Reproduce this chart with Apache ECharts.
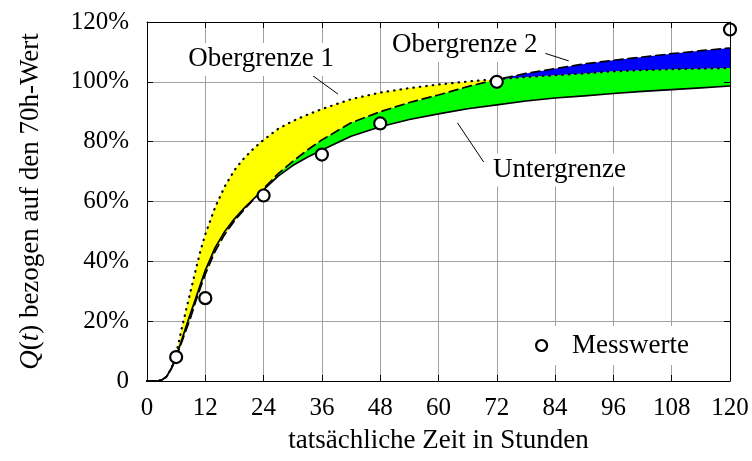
<!DOCTYPE html>
<html>
<head>
<meta charset="utf-8">
<script src="https://cdn.jsdelivr.net/npm/echarts@6/dist/echarts.min.js"></script>
<style>
  html, body { margin: 0; padding: 0; background: #fff; }
  #chart { width: 752px; height: 461px; }
</style>
</head>
<body>
<div id="chart"></div>
<script>
const hours = [0, 2, 3, 4, 5, 6, 7, 8, 9, 10, 11, 12, 14, 16, 18, 20, 22, 24, 27, 30, 33, 36,
  42, 48, 54, 60, 66, 72, 78, 84, 90, 96, 102, 108, 114, 120];

// Untergrenze (durchgezogen), in % des 70h-Werts
const untergrenze = [0, 0, 0.3, 1.4, 4.2, 8.1, 13, 18, 22.8, 27.5, 32.3, 37, 44.5, 50, 54.2, 57.8, 61, 64, 68.5, 72, 74.8, 77.2,
  81.8, 85, 87.4, 89.3, 91, 92.3, 93.6, 94.6, 95.3, 96.1, 96.8, 97.4, 98, 98.6];

// Obergrenze 1 (gepunktet)
const obergrenze1 = [0, 0, 0.3, 1.4, 4.2, 9, 16.5, 23.5, 30.2, 37, 43.5, 49, 58, 65, 70.5, 74.5, 77.8, 80.6, 84.3, 86.9, 89, 90.9,
  94.2, 96.4, 97.9, 99.1, 100.1, 100.9, 101.6, 102.2, 102.8, 103.5, 103.9, 104.2, 104.4, 104.6];

// Obergrenze 2 (gestrichelt)
const obergrenze2 = [0, 0, 0.3, 1.4, 4.0, 7.8, 12.3, 16.8, 21.3, 26.5, 31.2, 35.7, 43.3, 49, 53.5, 57.3, 60.8, 64.3, 69.3, 73.4, 77.2, 80.6,
  86.3, 90, 93.1, 95.6, 98.4, 100.8, 102.8, 104.4, 106, 107.2, 108.3, 109.4, 110.4, 111.3];

// Messwerte
const messStunden = [6, 12, 24, 36, 48, 72, 120];
const messWerte = [8, 27.7, 62, 75.7, 86.1, 100, 117.5];

// Achsenbeschriftungen
const xTickLabels = ['0', '12', '24', '36', '48', '60', '72', '84', '96', '108', '120'];
const yTickLabels = ['0', '20%', '40%', '60%', '80%', '100%', '120%'];

const FONT = 'Liberation Serif';

// Flächen zwischen den Grenzkurven
const tiefereObergrenze = hours.map((_, i) => Math.min(obergrenze1[i], obergrenze2[i]));
const baender = [
  { farbe: '#00ff00', oben: tiefereObergrenze, unten: untergrenze },
  { farbe: '#ffff00', oben: obergrenze1, unten: tiefereObergrenze },
  { farbe: '#0000ff', oben: obergrenze2, unten: tiefereObergrenze }
];

function renderBand(params, api) {
  const b = baender[params.dataIndex];
  const pts = [];
  for (let i = 0; i < hours.length; i++) pts.push(api.coord([hours[i], b.oben[i]]));
  for (let i = hours.length - 1; i >= 0; i--) pts.push(api.coord([hours[i], b.unten[i]]));
  return {
    type: 'polygon',
    shape: { points: pts },
    style: { fill: b.farbe, stroke: null, lineWidth: 0 }
  };
}

const pairs = ys => hours.map((h, i) => [h, ys[i]]);

function curve(name, values, type, width) {
  return {
    name, type: 'line', data: pairs(values), smooth: false,
    showSymbol: false, symbol: 'none', silent: true, z: 3,
    lineStyle: { color: '#000', width, type, cap: type === 'solid' ? 'butt' : 'round', join: 'round' }
  };
}

const chart = echarts.init(document.getElementById('chart'), null, { renderer: 'canvas' });

const textBase = { fontFamily: FONT, color: '#000' };

chart.setOption({
  animation: false,
  backgroundColor: '#fff',
  grid: { left: 147, top: 22, width: 583, height: 359, containLabel: false, outerBoundsMode: 'none' },
  legend: {
    data: [{ name: 'Messwerte', icon: 'circle' }],
    left: 526, top: 326,
    orient: 'horizontal',
    backgroundColor: '#fff',
    padding: [6, 12, 6, 9],
    itemWidth: 11, itemHeight: 11,
    itemStyle: { color: '#fff', borderColor: '#000', borderWidth: 2.2, opacity: 1 },
    textStyle: Object.assign({ fontSize: 27, padding: [0, 0, 0, 20] }, textBase),
    selectedMode: false
  },
  xAxis: [{
    type: 'value', min: 0, max: 120, interval: 12, position: 'bottom',
    axisLine: { show: true, onZero: false, lineStyle: { color: '#000', width: 1 } },
    axisTick: { show: true, inside: true, length: 6, lineStyle: { color: '#000', width: 1 } },
    axisLabel: Object.assign({ fontSize: 25, margin: 15, formatter: v => xTickLabels[Math.round(v / 12)] }, textBase),
    splitLine: { show: true, lineStyle: { color: '#a0a0a0', width: 1 } },
    name: 'tatsächliche Zeit in Stunden', nameLocation: 'middle', nameGap: 46,
    nameTextStyle: Object.assign({ fontSize: 27 }, textBase)
  }, {
    type: 'value', min: 0, max: 120, interval: 12, position: 'top', z: 10,
    axisLine: { show: true, onZero: false, lineStyle: { color: '#000', width: 1 } },
    axisTick: { show: true, inside: true, length: 6, lineStyle: { color: '#000', width: 1 } },
    axisLabel: { show: false }, splitLine: { show: false }
  }],
  yAxis: [{
    type: 'value', min: 0, max: 120, interval: 20, position: 'left',
    axisLine: { show: true, onZero: false, lineStyle: { color: '#000', width: 1 } },
    axisTick: { show: true, inside: true, length: 6, lineStyle: { color: '#000', width: 1 } },
    axisLabel: Object.assign({ fontSize: 25, margin: 18, formatter: v => yTickLabels[Math.round(v / 20)] }, textBase),
    splitLine: { show: true, lineStyle: { color: '#a0a0a0', width: 1 } },
    name: '{it|Q}({it|t}) bezogen auf den 70h-Wert', nameLocation: 'middle', nameGap: 103,
    nameTextStyle: Object.assign({
      fontSize: 27,
      rich: { it: { fontFamily: FONT, fontSize: 27, fontStyle: 'italic', color: '#000' } }
    }, textBase)
  }, {
    type: 'value', min: 0, max: 120, interval: 20, position: 'right', z: 10,
    axisLine: { show: true, onZero: false, lineStyle: { color: '#000', width: 1 } },
    axisTick: { show: true, inside: true, length: 6, lineStyle: { color: '#000', width: 1 } },
    axisLabel: { show: false }, splitLine: { show: false }
  }],
  series: [
    {
      name: 'Bereiche', type: 'custom', z: 1, silent: true,
      renderItem: renderBand,
      data: baender.map(() => [0, 0])
    },
    curve('Untergrenze', untergrenze, 'solid', 1.7),
    curve('Obergrenze 2', obergrenze2, [9, 5], 1.7),
    curve('Obergrenze 1', obergrenze1, [0.5, 6], 2.2),
    {
      name: 'Messwerte', type: 'scatter', z: 5, clip: false,
      data: messStunden.map((h, i) => [h, messWerte[i]]),
      symbol: 'circle', symbolSize: 12,
      itemStyle: { color: '#fff', borderColor: '#000', borderWidth: 2.2, opacity: 1 },
      silent: true,
      markLine: {
        silent: true, symbol: ['none', 'arrow'], symbolSize: [0, 14],
        label: { show: false },
        lineStyle: { color: '#000', width: 1, type: 'solid' },
        data: [
          [{ coord: [34.0, 102.2] }, { coord: [39.3, 95.9] }],
          [{ coord: [82.0, 109.5] }, { coord: [86.8, 107.0] }],
          [{ coord: [69.3, 73.2] }, { coord: [63.9, 86.3] }]
        ]
      },
      markPoint: {
        silent: true, symbol: 'circle', symbolSize: 0,
        label: Object.assign({
          show: true, position: 'inside', fontSize: 27, backgroundColor: '#fff',
          padding: [3, 4], formatter: p => p.name
        }, textBase),
        data: [
          { name: 'Obergrenze 1', coord: [23.5, 107.5] },
          { name: 'Obergrenze 2', coord: [65.4, 112.2] },
          { name: 'Untergrenze', coord: [84.9, 70.5] }
        ]
      }
    }
  ]
});
</script>
</body>
</html>
